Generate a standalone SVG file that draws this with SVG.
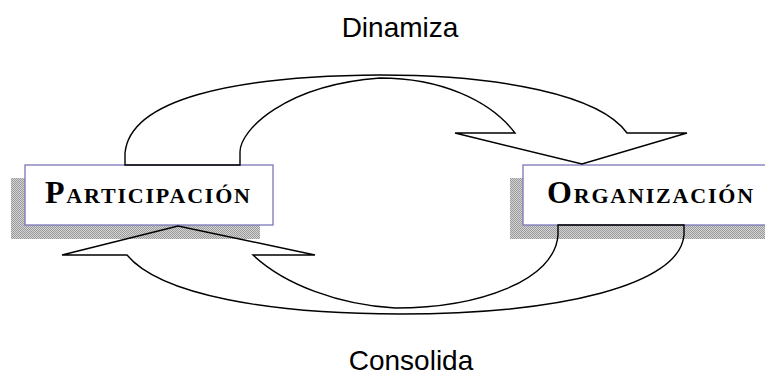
<svg xmlns="http://www.w3.org/2000/svg" width="765" height="376" viewBox="0 0 765 376">
<defs>
<pattern id="dither" width="2" height="2" patternUnits="userSpaceOnUse">
<rect width="2" height="2" fill="#d4d4d4"/>
<rect x="0" y="0" width="1" height="1" fill="#9a9a9a"/>
<rect x="1" y="1" width="1" height="1" fill="#9a9a9a"/>
</pattern>
<style>
.shadow{fill:url(#dither);}
.box{fill:#ffffff;stroke:#7878b8;stroke-width:1.3;}
.lbl{font-family:"Liberation Serif",serif;font-weight:bold;font-variant:small-caps;font-size:32px;fill:#000;letter-spacing:1.8px;}
.verb{font-family:"Liberation Sans",sans-serif;font-size:28px;fill:#000;text-anchor:middle;}
.arrow{fill:none;stroke:#000;stroke-width:1.4;stroke-linejoin:miter;}
</style>
</defs>
<rect width="765" height="376" fill="#ffffff"/>
<g id="participacion">
<rect class="shadow" x="11" y="178" width="249" height="61"/>
<rect class="box" x="25" y="165" width="248" height="60"/>
<text class="lbl" x="45" y="203">Participación</text>
</g>
<g id="organizacion">
<rect class="shadow" x="510" y="178" width="260" height="61"/>
<rect class="box" x="523" y="165" width="250" height="60"/>
<text class="lbl" x="547" y="203">Organización</text>
</g>
<g id="connectors">
<path class="arrow" d="M125,165 V153 C130,100 230,76 380,75 C500,75 600,95 627,133 L687,133 L582,164 L455,133 L515,133 C490,100 440,78 380,78 C285,85 240,130 240,152 V165 Z"/>
<path class="arrow" d="M684,225 V235 C680,285 560,314 400,314 C270,314 160,295 127,255 L62,255 L178,226 L315,255 L253,255 C285,285 340,305 395,308 C480,308 555,280 558,235 V225 Z"/>
</g>
<g id="labels">
<text class="verb" x="400" y="37">Dinamiza</text>
<text class="verb" x="411" y="370">Consolida</text>
</g>
</svg>
